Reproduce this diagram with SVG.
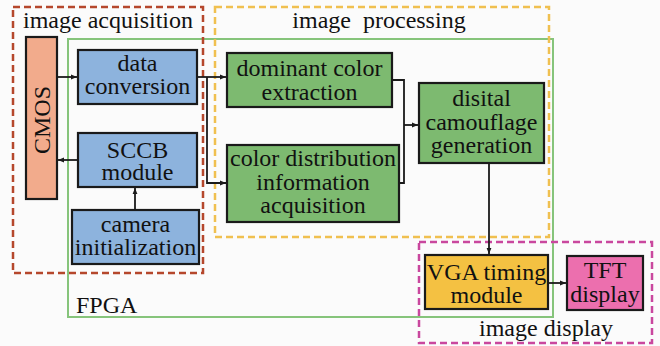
<svg xmlns="http://www.w3.org/2000/svg" width="660" height="346" viewBox="0 0 660 346">
<defs>
<style>
text{font-family:'Liberation Serif','DejaVu Serif',serif;font-size:24px;fill:#111;text-anchor:middle}
.box{stroke:#1a1a1a;stroke-width:2.2}
.blue{fill:#8db3dd}
.green{fill:#7dba70}
.conn{fill:none;stroke:#1a1a1a;stroke-width:1.8}
.dash{fill:none;stroke-width:2.5;stroke-dasharray:7 4}
</style>
<marker id="ah" viewBox="0 0 10 10" refX="10" refY="5" markerWidth="6" markerHeight="6" orient="auto" markerUnits="userSpaceOnUse">
<path d="M0,1 L10,5 L0,9 Z" fill="#1a1a1a"/>
</marker>
</defs>
<rect x="0" y="0" width="660" height="346" fill="#fbfbfb"/>
<g font-family="Liberation Serif, DejaVu Serif, serif" font-size="24">
<g id="fpga">
<rect x="68" y="39" width="485" height="278" fill="none" stroke="#86c47b" stroke-width="2"/>
<text x="76" y="313" style="text-anchor:start">FPGA</text>
</g>
<g id="image-acquisition">
<rect class="dash" x="13" y="7" width="190" height="266" stroke="#b5472c"/>
<text x="108" y="28">image acquisition</text>
</g>
<g id="image-processing">
<rect class="dash" x="215" y="7" width="334" height="230" stroke="#f0c050"/>
<text x="379" y="28" xml:space="preserve">image  processing</text>
</g>
<g id="image-display">
<rect class="dash" x="419" y="242" width="233" height="101" stroke="#c9479e"/>
<text x="546" y="336">image display</text>
</g>

<g id="cmos">
<rect class="box" x="26" y="37" width="31" height="162" fill="#f2ab8c"/>
<text transform="translate(50,120) rotate(-90)">CMOS</text>
</g>
<g id="data-conversion">
<rect class="box blue" x="78" y="50" width="119" height="54"/>
<text x="137.5" y="71">data</text>
<text x="137.5" y="94">conversion</text>
</g>
<g id="sccb">
<rect class="box blue" x="78" y="133" width="119" height="54"/>
<text x="137.5" y="158">SCCB</text>
<text x="137.5" y="180">module</text>
</g>
<g id="camera-init">
<rect class="box blue" x="72" y="210" width="127" height="54"/>
<text x="135.5" y="232">camera</text>
<text x="135.5" y="255">initialization</text>
</g>
<g id="dominant-color">
<rect class="box green" x="227" y="53" width="165" height="54"/>
<text x="309.5" y="76">dominant color</text>
<text x="309.5" y="100">extraction</text>
</g>
<g id="color-distribution">
<rect class="box green" x="227" y="145" width="172" height="77"/>
<text x="313" y="166">color distribution</text>
<text x="313" y="190">information</text>
<text x="313" y="213">acquisition</text>
</g>
<g id="camouflage">
<rect class="box green" x="419" y="83" width="125" height="80"/>
<text x="481.5" y="106">disital</text>
<text x="481.5" y="130">camouflage</text>
<text x="481.5" y="153">generation</text>
</g>
<g id="vga">
<rect class="box" x="425" y="255" width="123" height="54" fill="#f4c142"/>
<text x="486.5" y="280">VGA timing</text>
<text x="486.5" y="303">module</text>
</g>
<g id="tft">
<rect class="box" x="567" y="256" width="76" height="54" fill="#ec6fae"/>
<text x="605" y="278">TFT</text>
<text x="605" y="302">display</text>
</g>
</g>
<g id="connectors">
<path class="conn" d="M57,77 H77" marker-end="url(#ah)"/>
<path class="conn" d="M78,160 H58" marker-end="url(#ah)"/>
<path class="conn" d="M135,210 V188" marker-end="url(#ah)"/>
<path class="conn" d="M197,77 H226" marker-end="url(#ah)"/>
<path class="conn" d="M207,77 V183 H226" marker-end="url(#ah)"/>
<path class="conn" d="M392,80 H404 V183 H399"/>
<path class="conn" d="M404,125 H418" marker-end="url(#ah)"/>
<path class="conn" d="M489,163 V254" marker-end="url(#ah)"/>
<path class="conn" d="M548,283 H566" marker-end="url(#ah)"/>
</g>
</svg>
